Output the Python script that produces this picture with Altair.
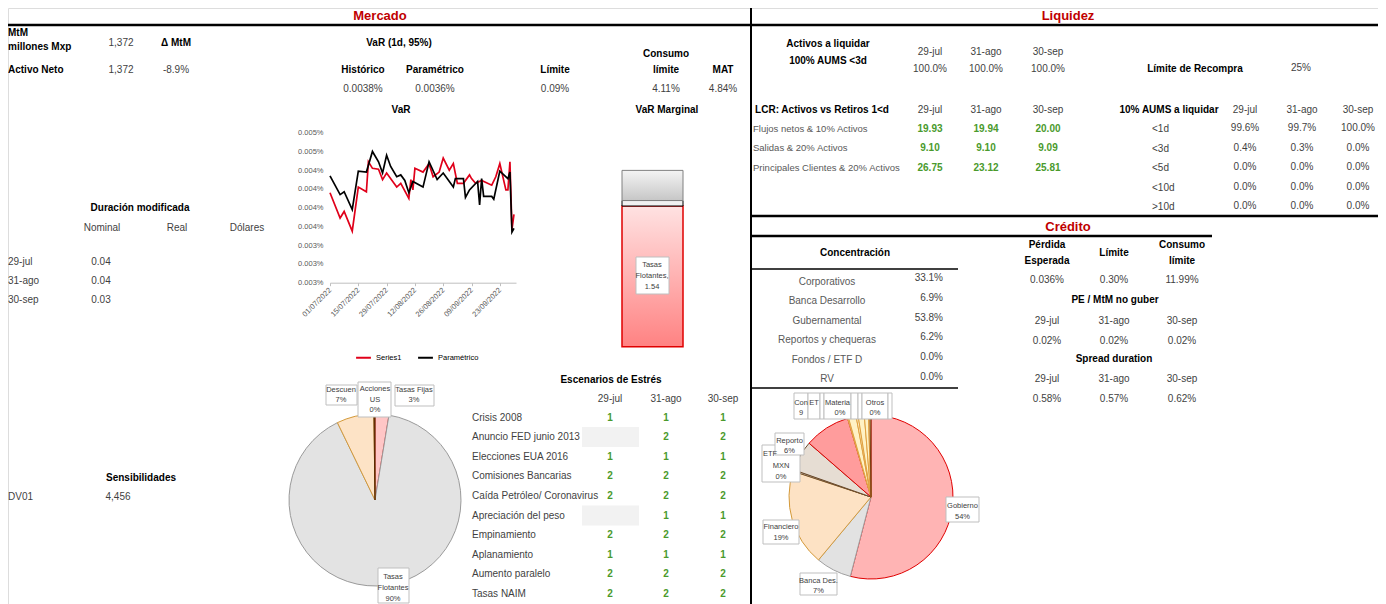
import altair as alt
import pandas as pd

FONT = "'Liberation Sans Narrow', 'Arial Narrow', 'Liberation Sans', sans-serif"
OFF = 8
W, H = 1370, 596

# ---------------- data ----------------
mtm_labels = ["MtM\nmillones Mxp", "Activo Neto"]
mtm_values = ["1,372", "1,372"]
delta_label = "Δ MtM"
delta_value = "-8.9%"

var_title = "VaR (1d, 95%)"
var_headers = ["Histórico", "Paramétrico", "Límite", "Consumo\nlímite", "MAT"]
var_values = ["0.0038%", "0.0036%", "0.09%", "4.11%", "4.84%"]

dur_title = "Duración modificada"
dur_cols = ["Nominal", "Real", "Dólares"]
dates3 = ["29-jul", "31-ago", "30-sep"]
dur_nominal = ["0.04", "0.04", "0.03"]

sens_title = "Sensibilidades"
sens_label = "DV01"
sens_value = "4,456"

# VaR series (values in %)
s1_dates = ["2022-07-01", "2022-07-06", "2022-07-08", "2022-07-12", "2022-07-15", "2022-07-19",
            "2022-07-20", "2022-07-22", "2022-07-25", "2022-07-27", "2022-07-29", "2022-08-03",
            "2022-08-05", "2022-08-09", "2022-08-10", "2022-08-11", "2022-08-12", "2022-08-16",
            "2022-08-19", "2022-08-21", "2022-08-24", "2022-08-26", "2022-08-29", "2022-08-31",
            "2022-09-02", "2022-09-05", "2022-09-08", "2022-09-09", "2022-09-11", "2022-09-14",
            "2022-09-19", "2022-09-21", "2022-09-23", "2022-09-26", "2022-09-27", "2022-09-28",
            "2022-09-29", "2022-09-30"]
s1_values = [0.00396, 0.00369, 0.00376, 0.00355, 0.00402, 0.00397, 0.00429, 0.00422, 0.00421,
             0.00410, 0.00417, 0.00402, 0.00406, 0.00390, 0.00410, 0.00399, 0.00422, 0.00418,
             0.00427, 0.00413, 0.00418, 0.00433, 0.00420, 0.00427, 0.00406, 0.00406, 0.00415,
             0.00411, 0.00406, 0.00409, 0.00404, 0.00413, 0.00427, 0.00399, 0.00399, 0.00429,
             0.00357, 0.00373]
par_dates = ["2022-07-01", "2022-07-06", "2022-07-08", "2022-07-12", "2022-07-15", "2022-07-19",
             "2022-07-22", "2022-07-25", "2022-07-27", "2022-07-29", "2022-07-31", "2022-08-03",
             "2022-08-05", "2022-08-07", "2022-08-09", "2022-08-11", "2022-08-16", "2022-08-19",
             "2022-08-23", "2022-08-26", "2022-08-31", "2022-09-01", "2022-09-05", "2022-09-06",
             "2022-09-08", "2022-09-12", "2022-09-13", "2022-09-14", "2022-09-15", "2022-09-19",
             "2022-09-20", "2022-09-23", "2022-09-27", "2022-09-28", "2022-09-29", "2022-09-30"]
par_values = [0.00414, 0.00394, 0.00397, 0.00378, 0.00419, 0.00418, 0.00440, 0.00429, 0.00417,
              0.00436, 0.00424, 0.00413, 0.00415, 0.00409, 0.00396, 0.00408, 0.00402, 0.00429,
              0.00410, 0.00417, 0.00402, 0.00411, 0.00411, 0.00391, 0.00399, 0.00408, 0.00383,
              0.00411, 0.00392, 0.00392, 0.00389, 0.00419, 0.00411, 0.00418, 0.00354, 0.00358]
series_names = ["Series1", "Paramétrico"]
var_tick_values = [0.0030, 0.0032, 0.0034, 0.0036, 0.0038, 0.0040, 0.0042, 0.0044, 0.0046]
var_tick_labels = ["0.003%", "0.003%", "0.003%", "0.004%", "0.004%", "0.004%", "0.004%", "0.005%", "0.005%"]
var_date_ticks = [(2022, 7, 1), (2022, 7, 15), (2022, 7, 29), (2022, 8, 12), (2022, 8, 26),
                  (2022, 9, 9), (2022, 9, 23)]

# VaR marginal
vm_title = "VaR Marginal"
vm_segments = ["Tasas Flotantes", "Tasas Fijas", "Descuento"]
vm_values = [1.54, 0.06, 0.33]
vm_ticks = [0, 0.5, 1.0, 1.5, 2.0, 2.5]

# Market pie
mkt_pie_names = ["Tasas Fijas", "Tasas Flotantes", "Descuento", "Acciones US"]
mkt_pie_values = [2.6, 90.2, 7.0, 0.2]
mkt_pie_fill = ["#ffc6c6", "#e3e3e3", "#fde3c6", "#7a3b10"]
mkt_pie_stroke = ["#e03030", "#9a9a9a", "#d49a3a", "#5a2a00"]

# Stress
stress_title = "Escenarios de Estrés"
stress_rows = ["Crisis 2008", "Anuncio FED junio 2013", "Elecciones EUA 2016", "Comisiones Bancarias",
               "Caída Petróleo/ Coronavirus", "Apreciación del peso", "Empinamiento", "Aplanamiento",
               "Aumento paralelo", "Tasas NAIM"]
stress_jul = [1, None, 1, 2, 2, None, 2, 1, 2, 2]
stress_ago = [1, 2, 1, 2, 2, 1, 2, 1, 2, 2]
stress_sep = [1, 2, 1, 2, 2, 1, 2, 1, 2, 2]

# Liquidez
liq_title = ["Activos a liquidar", "100% AUMS <3d"]
liq_values = ["100.0%", "100.0%", "100.0%"]
recompra_label = "Límite de Recompra"
recompra_value = "25%"
lcr_title = "LCR: Activos vs Retiros 1<d"
lcr_rows = ["Flujos netos & 10% Activos", "Salidas & 20% Activos", "Principales Clientes & 20% Activos"]
lcr_jul = ["19.93", "9.10", "26.75"]
lcr_ago = ["19.94", "9.10", "23.12"]
lcr_sep = ["20.00", "9.09", "25.81"]
aums_title = "10% AUMS a liquidar"
aums_rows = ["<1d", "<3d", "<5d", "<10d", ">10d"]
aums_jul = ["99.6%", "0.4%", "0.0%", "0.0%", "0.0%"]
aums_ago = ["99.7%", "0.3%", "0.0%", "0.0%", "0.0%"]
aums_sep = ["100.0%", "0.0%", "0.0%", "0.0%", "0.0%"]

# Crédito
conc_title = "Concentración"
conc_rows = ["Corporativos", "Banca Desarrollo", "Gubernamental", "Reportos y chequeras", "Fondos / ETF D", "RV"]
conc_values = ["33.1%", "6.9%", "53.8%", "6.2%", "0.0%", "0.0%"]
pe_headers = ["Pérdida\nEsperada", "Límite", "Consumo\nlímite"]
pe_values = ["0.036%", "0.30%", "11.99%"]
pe_mtm_title = "PE / MtM no guber"
pe_mtm_values = ["0.02%", "0.02%", "0.02%"]
spread_title = "Spread duration"
spread_values = ["0.58%", "0.57%", "0.62%"]

cred_pie_names = ["Gobierno", "Banca Des.", "Financiero", "ETF MXN", "Reporto", "Consumo", "ETF USD",
                  "Infraestructura", "Materiales", "Industrial", "Energía", "Otros", "Acciones"]
cred_pie_values = [54.0, 7.0, 19.0, 0.3, 6.0, 9.0, 0.2, 1.5, 0.4, 1.2, 0.8, 0.3, 0.2]
cred_pie_fill = ["#ffb4b4", "#e2e2e2", "#fde2c4", "#e8e0d8", "#e6ddd3", "#ff9c9c", "#fff1c4",
                 "#fff1c4", "#fff1c4", "#fff1c4", "#fff1c4", "#fff1c4", "#fff1c4"]
cred_pie_stroke = ["#e00000", "#a0a0a0", "#d49a3a", "#6b4a2a", "#6b4a2a", "#e00000", "#e0a040",
                   "#e0a040", "#e0a040", "#e0a040", "#e0a040", "#e0a040", "#7a3b10"]

# ---------------- layout helpers ----------------
FS = 10
STYLES = {
    "hdr": dict(fontSize=13, fontWeight="bold", color="#c00000", align="center"),
    "b": dict(fontSize=FS, fontWeight="bold", color="#000000", align="center"),
    "bl": dict(fontSize=FS, fontWeight="bold", color="#000000", align="left"),
    "r": dict(fontSize=FS, color="#3f3f3f", align="center"),
    "rl": dict(fontSize=FS, color="#3f3f3f", align="left"),
    "rr": dict(fontSize=FS, color="#3f3f3f", align="right"),
    "gl": dict(fontSize=9.5, color="#595959", align="left"),
    "gc": dict(fontSize=FS, color="#595959", align="center"),
    "g": dict(fontSize=FS, fontWeight="bold", color="#4a9a2c", align="center"),
    "s": dict(fontSize=7.5, color="#404040", align="center"),
    "sl": dict(fontSize=7.5, color="#404040", align="left"),
}
texts = {k: [] for k in STYLES}


def put(style, x, y, s):
    texts[style].append({"x": x - OFF, "y": y - OFF, "t": str(s)})


def putm(style, x, y, s, lh=16):
    for i, line in enumerate(str(s).split("\n")):
        put(style, x, y + i * lh, line)


rules = []


def rule(x1, y1, x2, y2, w):
    rules.append({"x": x1 - OFF, "x2": x2 - OFF, "y": y1 - OFF, "y2": y2 - OFF, "w": w})


boxes = []


def box(x1, y1, x2, y2):
    boxes.append({"x": x1 - OFF, "x2": x2 - OFF, "y": y1 - OFF, "y2": y2 - OFF})


cells = []


def cell(x1, y1, x2, y2):
    cells.append({"x": x1 - OFF, "x2": x2 - OFF, "y": y1 - OFF, "y2": y2 - OFF})


# ---------------- Mercado ----------------
put("hdr", 380, 16, "Mercado")
putm("bl", 8, 33, mtm_labels[0], 14)
put("bl", 8, 70, mtm_labels[1])
put("r", 121, 43, mtm_values[0])
put("r", 121, 70, mtm_values[1])
put("b", 176, 43, delta_label)
put("r", 176, 70, delta_value)
put("b", 399, 43, var_title)
for x, h, v in zip([363, 435, 555, 666, 723], var_headers, var_values):
    n = h.count("\n")
    putm("b", x, 70 - 16 * n, h, 16)
    put("r", x, 89, v)
put("b", 401, 110, "VaR")
put("b", 667, 110, vm_title)

put("b", 140, 208, dur_title)
for x, c in zip([102, 177, 247], dur_cols):
    put("r", x, 228, c)
for i, (d, v) in enumerate(zip(dates3, dur_nominal)):
    put("rl", 8, 262 + 19 * i, d)
    put("r", 101, 262 + 19 * i, v)

put("b", 141, 478, sens_title)
put("rl", 8, 497, sens_label)
put("r", 118, 497, sens_value)

# stress table
put("b", 611, 380, stress_title)
stress_cols = [610, 666, 723]
for x, d in zip(stress_cols, dates3):
    put("r", x, 399, d)
for i, name in enumerate(stress_rows):
    y = 417.5 + 19.6 * i
    put("rl", 472, y, name)
    for x, vals in zip(stress_cols, [stress_jul, stress_ago, stress_sep]):
        if vals[i] is None:
            cell(582, y - 10, 639, y + 10)
        else:
            put("g", x, y, vals[i])

# market pie labels
box(326, 385, 357, 405)
putm("s", 341, 390, "Descuen\n" + f"{round(mkt_pie_values[2])}%", 10)
box(358, 382, 391, 417)
putm("s", 375, 389, "Acciones\nUS\n" + f"{round(mkt_pie_values[3])}%", 10.5)
box(395, 385, 434, 406)
putm("s", 414, 390, mkt_pie_names[0] + "\n" + f"{round(mkt_pie_values[0])}%", 10)
box(378, 568, 409, 603)
putm("s", 393, 577, "Tasas\nFlotantes\n" + f"{round(mkt_pie_values[1])}%", 11)

# VaR marginal callout
box(636, 257, 669, 294)
putm("s", 652, 265, "Tasas\nFlotantes,\n" + f"{vm_values[0]:.2f}", 11)

# ---------------- Liquidez ----------------
put("hdr", 1068, 16, "Liquidez")
putm("b", 828, 44, "\n".join(liq_title), 17)
liq_cols = [930, 986, 1048]
for x, d, v in zip(liq_cols, dates3, liq_values):
    put("r", x, 52, d)
    put("r", x, 69, v)
put("b", 1195, 69, recompra_label)
put("r", 1301, 68, recompra_value)
put("b", 822, 110, lcr_title)
for x, d in zip(liq_cols, dates3):
    put("r", x, 110, d)
for i, name in enumerate(lcr_rows):
    y = 128.5 + 19.5 * i
    put("gl", 753, y, name)
    for x, vals in zip(liq_cols, [lcr_jul, lcr_ago, lcr_sep]):
        put("g", x, y, vals[i])
put("b", 1169, 110, aums_title)
aums_cols = [1245, 1302, 1358]
for x, d in zip(aums_cols, dates3):
    put("r", x, 110, d)
for i, name in enumerate(aums_rows):
    y = 129 + 19.5 * i
    put("rl", 1152, y, name)
    for x, vals in zip(aums_cols, [aums_jul, aums_ago, aums_sep]):
        put("r", x, y - 1, vals[i])

# ---------------- Crédito ----------------
put("hdr", 1068, 227, "Crédito")
put("b", 855, 253, conc_title)
for i, (name, v) in enumerate(zip(conc_rows, conc_values)):
    put("gc", 827, 282 + 19.4 * i, name)
    put("rr", 943, 278 + 19.8 * i, v)
cred_cols = [1047, 1114, 1182]
for x, h in zip(cred_cols, pe_headers):
    if "\n" in h:
        putm("b", x, 245, h, 16)
    else:
        put("b", x, 253, h)
for x, v in zip(cred_cols, pe_values):
    put("r", x, 280, v)
put("b", 1115, 300, pe_mtm_title)
for x, d, v in zip(cred_cols, dates3, pe_mtm_values):
    put("r", x, 321, d)
    put("r", x, 341, v)
put("b", 1114, 359, spread_title)
for x, d, v in zip(cred_cols, dates3, spread_values):
    put("r", x, 379, d)
    put("r", x, 399, v)

# credit pie labels
box(946, 497, 979, 522)
putm("s", 962.5, 505.5, f"{cred_pie_names[0]}\n{round(cred_pie_values[0])}%", 11)
box(800, 573, 837, 595)
putm("s", 818.5, 580.5, f"{cred_pie_names[1]}\n{round(cred_pie_values[1])}%", 10.5)
box(763, 520, 799, 544)
putm("s", 781, 527, f"{cred_pie_names[2]}\n{round(cred_pie_values[2])}%", 10.5)
box(762, 445, 800, 482)
put("sl", 763, 454, "ETF")
putm("s", 781, 466, f"MXN\n{round(cred_pie_values[3])}%", 11)
box(775, 433, 804, 455)
putm("s", 789.5, 441, f"{cred_pie_names[4]}\n{round(cred_pie_values[4])}%", 10)
for x1, x2 in [(794, 808), (808, 820), (820, 824), (824, 851), (851, 858), (858, 862), (862, 888), (888, 892)]:
    box(x1, 393, x2, 419)
putm("s", 801, 403, "Con\n" + f"{round(cred_pie_values[5])}", 10)
put("s", 814, 403, "ET")
putm("s", 837.5, 403, "Materia", 10)
put("s", 840, 413, f"{round(cred_pie_values[8])}%")
putm("s", 875, 403, f"{cred_pie_names[11]}\n{round(cred_pie_values[11])}%", 10)

# ---------------- rules ----------------
rule(7, 25, 751, 25, 2.5)
rule(751, 25, 1386, 25, 2.5)
rule(751, 8, 751, 604, 2)
rule(751, 216, 1386, 216, 2.5)
rule(751, 236, 1212, 236, 2.5)
rule(752, 269, 958, 269, 1.5)
rule(752, 388, 958, 388, 1.5)

# ---------------- chart layers ----------------
PX = dict(scale=None, axis=None)
layers = []

# stress gray cells
layers.append(alt.Chart(pd.DataFrame(cells)).mark_rect(fill="#f2f2f2").encode(
    x=alt.X("x:Q", **PX), x2="x2:Q", y=alt.Y("y:Q", **PX), y2="y2:Q"))

# VaR line chart
dfl = pd.concat([
    pd.DataFrame({"fecha": s1_dates, "v": s1_values, "serie": series_names[0]}),
    pd.DataFrame({"fecha": par_dates, "v": par_values, "serie": series_names[1]}),
])
label_expr = "[" + ",".join(f"'{l}'" for l in var_tick_labels) + "][round((datum.value-0.003)/0.0002)]"
x0_line, x1_line = 330 - OFF, 516 - OFF
yb_line, yt_line = 282.7 - OFF, 132.7 - OFF
line = alt.Chart(dfl).mark_line(strokeWidth=1.7).encode(
    x=alt.X("fecha:T",
            scale=alt.Scale(domain=[alt.DateTime(year=2022, month=7, date=1),
                                    alt.DateTime(year=2022, month=10, date=1)],
                            range=[x0_line, x1_line]),
            axis=alt.Axis(values=[alt.DateTime(year=y, month=m, date=d) for y, m, d in var_date_ticks],
                          format="%d/%m/%Y", labelAngle=-45, labelAlign="right", labelBaseline="middle",
                          labelFontSize=7.5, labelColor="#595959", domainColor="#bfbfbf", tickColor="#bfbfbf",
                          tickSize=3, grid=False, title=None, orient="bottom", offset=yb_line - H,
                          labelPadding=3, labelFont=FONT, labelOverlap=False, labelBound=False)),
    y=alt.Y("v:Q",
            scale=alt.Scale(domain=[0.0030, 0.0046], range=[yb_line, yt_line], zero=False, nice=False),
            axis=alt.Axis(values=var_tick_values, labelExpr=label_expr, orient="left", offset=-x0_line,
                          domain=False, ticks=False, grid=False, labelFontSize=7.5, labelColor="#595959",
                          title=None, labelPadding=7, labelFont=FONT, labelOverlap=False)),
    color=alt.Color("serie:N", scale=alt.Scale(domain=series_names, range=["#e0001a", "#000000"]),
                    legend=alt.Legend(orient="none", legendX=347, legendY=341, direction="horizontal",
                                      title=None, symbolType="stroke", symbolStrokeWidth=2, symbolSize=220,
                                      labelFontSize=7.5, labelFont=FONT, columnPadding=12, labelColor="#000000")),
)
layers.append(line)

# VaR marginal stacked bar
vm = pd.DataFrame({"seg": vm_segments, "v": vm_values, "cat": vm_title})
vm["y1"] = vm["v"].cumsum()
vm["y0"] = vm["y1"] - vm["v"]


def grad(c0, c1):
    return alt.Gradient(gradient="linear", stops=[alt.GradientStop(color=c0, offset=0),
                                                   alt.GradientStop(color=c1, offset=1)],
                        x1=0, x2=0, y1=0, y2=1)


bar_styles = [
    (vm_segments[0], grad("#ffe2e2", "#ff8282"), "#e00000", 1.5),
    (vm_segments[1], "#f0f0f0", "#000000", 1),
    (vm_segments[2], grad("#f4f4f4", "#c6c6c6"), "#808080", 1),
]
bar_layers = []
for i, (seg, fill, stroke, sw) in enumerate(bar_styles):
    ax = alt.Axis(values=vm_ticks, labelExpr="datum.value == 0 ? '-' : format(datum.value, '.2f')",
                  orient="left", offset=-(573 - OFF), domain=False, ticks=False, grid=False,
                  labelFontSize=7.5, labelColor="#595959", title=None, labelPadding=4,
                  labelFont=FONT) if i == 0 else None
    bar_layers.append(alt.Chart(vm).transform_filter(alt.datum.seg == seg).mark_bar(
        fill=fill, stroke=stroke, strokeWidth=sw).encode(
        x=alt.X("cat:N", scale=alt.Scale(range=[622 - OFF, 683 - OFF], paddingInner=0, paddingOuter=0),
                axis=None),
        y=alt.Y("y0:Q", scale=alt.Scale(domain=[0, 2.5], range=[346.7 - OFF, 118.3 - OFF], nice=False),
                axis=ax),
        y2="y1:Q"))
layers.append(alt.layer(*bar_layers))

# pies
mp = pd.DataFrame({"cat": mkt_pie_names, "v": mkt_pie_values, "i": range(len(mkt_pie_names))})
layers.append(alt.Chart(mp).mark_arc(outerRadius=86, strokeWidth=1).encode(
    theta=alt.Theta("v:Q", stack=True),
    order=alt.Order("i:Q"),
    color=alt.Color("cat:N", scale=alt.Scale(domain=mkt_pie_names, range=mkt_pie_fill), legend=None),
    stroke=alt.Stroke("cat:N", scale=alt.Scale(domain=mkt_pie_names, range=mkt_pie_stroke), legend=None),
    x=alt.value(375 - OFF), y=alt.value(500 - OFF)))

cp = pd.DataFrame({"cat": cred_pie_names, "v": cred_pie_values, "i": range(len(cred_pie_names))})
layers.append(alt.Chart(cp).mark_arc(outerRadius=82, strokeWidth=1).encode(
    theta=alt.Theta("v:Q", stack=True),
    order=alt.Order("i:Q"),
    color=alt.Color("cat:N", scale=alt.Scale(domain=cred_pie_names, range=cred_pie_fill), legend=None),
    stroke=alt.Stroke("cat:N", scale=alt.Scale(domain=cred_pie_names, range=cred_pie_stroke), legend=None),
    x=alt.value(871 - OFF), y=alt.value(497 - OFF)))

# label boxes
layers.append(alt.Chart(pd.DataFrame(boxes)).mark_rect(fill="white", stroke="#bfbfbf", strokeWidth=1).encode(
    x=alt.X("x:Q", **PX), x2="x2:Q", y=alt.Y("y:Q", **PX), y2="y2:Q"))

# rules
layers.append(alt.Chart(pd.DataFrame(rules)).mark_rule(color="#000000").encode(
    x=alt.X("x:Q", **PX), x2="x2:Q", y=alt.Y("y:Q", **PX), y2="y2:Q",
    strokeWidth=alt.StrokeWidth("w:Q", scale=None)))

# texts
for k, rows in texts.items():
    if rows:
        layers.append(alt.Chart(pd.DataFrame(rows)).mark_text(font=FONT, baseline="middle", **STYLES[k]).encode(
            x=alt.X("x:Q", **PX), y=alt.Y("y:Q", **PX), text=alt.Text("t:N")))

chart = alt.layer(*layers).properties(
    width=W, height=H, padding=0, autosize=alt.AutoSizeParams(type="none"), background="white"
).resolve_scale(
    x="independent", y="independent", color="independent", stroke="independent", theta="independent"
).configure_view(strokeWidth=0).configure(font=FONT)

chart.save("out.html", embed_options={"renderer": "svg", "actions": False})
